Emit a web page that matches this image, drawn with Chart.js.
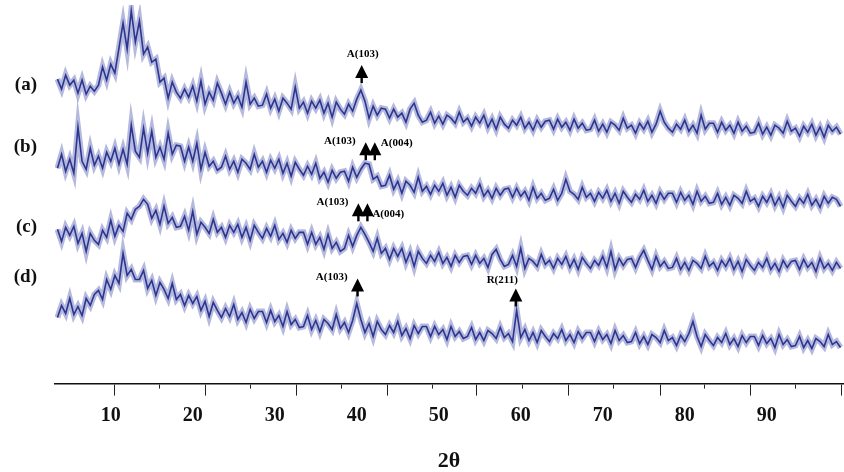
<!DOCTYPE html>
<html>
<head>
<meta charset="utf-8">
<script src="https://cdn.jsdelivr.net/npm/chart.js@4.4.1/dist/chart.umd.min.js"></script>
<style>
  body { margin: 0; background: #fff; }
</style>
</head>
<body>
<canvas id="xrdChart" width="844" height="472"></canvas>
<script>
// scan grid (2θ, degrees)
const scanStart = 3.5;
const scanStep = 0.5;

// sample names and the offset level they are written at
const sampleNames = ["(a)", "(b)", "(c)", "(d)"];
const sampleLevels = [298, 236, 156, 106];

// intensities (stacked, arbitrary units)
const intensityA = [
  304,294,308,298,303,290,303,289,297,292, 298,316,303,319,310,335,360,334,372,341,
  362,329,336,321,324,301,305,285,301,291, 285,294,286,297,282,302,279,291,283,300,
  290,279,291,280,287,276,301,279,285,277, 278,289,275,284,272,285,280,274,296,275,
  281,270,282,275,283,270,280,266,281,274, 269,279,272,284,293,282,265,277,268,275,
  274,265,274,266,270,261,274,280,268,261, 263,271,260,267,259,268,265,260,271,261,
  265,257,266,260,268,256,264,254,266,259, 255,263,258,266,255,261,253,263,256,262,
  263,254,264,256,261,253,264,255,260,253, 254,263,252,259,251,261,258,253,265,255,
  258,250,260,254,262,251,259,272,261,255, 251,259,254,263,252,258,250,268,254,260,
  260,251,261,253,258,250,261,252,257,250, 251,260,249,256,248,258,255,250,262,252,
  255,247,257,251,259,248,256,246,258,252, 256,249
];
const intensityB = [
  215,229,212,224,210,256,222,214,235,218, 227,215,231,222,235,219,234,219,258,232,
  226,255,230,252,226,236,224,250,229,238, 237,222,236,222,240,214,231,217,222,213,
  216,227,214,222,211,224,220,214,229,216, 222,211,223,215,224,210,220,207,221,214,
  208,217,209,220,205,211,201,213,205,211, 212,202,216,206,214,220,219,204,207,197,
  198,208,194,202,190,202,198,191,206,192, 197,189,198,192,200,188,196,186,198,192,
  188,195,190,199,187,193,185,195,188,194, 195,186,195,187,192,183,196,185,190,183,
  185,194,183,190,204,192,189,184,196,186, 190,182,191,185,193,182,190,180,192,186,
  181,189,184,193,182,188,180,191,184,190, 190,181,191,183,188,179,192,182,187,180,
  181,190,179,186,178,188,185,180,192,182, 185,177,187,181,189,178,186,176,188,182,
  177,185,180,189,178,184,176,187,180,186, 184,177
];
const intensityC = [
  154,142,156,148,157,140,150,132,150,143, 139,153,146,163,147,158,152,170,164,174,
  177,184,179,165,173,159,177,160,166,156, 157,167,153,172,149,161,156,150,164,151,
  156,146,158,151,159,146,156,143,158,151, 145,155,147,158,144,150,141,153,145,151,
  151,139,151,139,146,134,149,135,141,132, 135,148,137,148,156,149,141,132,145,130,
  135,124,135,127,135,121,131,117,132,125, 120,128,122,131,120,126,117,128,121,127,
  128,119,128,120,125,116,129,134,124,117, 119,128,117,135,115,125,122,117,129,119,
  123,115,125,119,127,116,124,114,126,120, 115,123,118,127,116,132,114,125,118,124,
  125,116,126,133,123,114,127,117,122,115, 116,125,114,121,113,123,120,115,127,117,
  121,113,123,117,125,114,122,112,124,118, 113,121,116,125,114,120,112,123,116,122,
  123,114,124,116,121,112,125,115,120,113, 121,115
];
const intensityD = [
  66,78,70,85,69,77,68,85,78,89, 93,84,104,94,108,100,130,108,114,104,
  104,113,95,103,88,101,94,85,100,84, 89,78,88,80,87,73,82,67,81,73,
  66,75,67,79,64,71,61,74,65,72, 72,61,73,62,68,57,72,59,64,56,
  57,68,54,63,52,64,60,54,69,55, 61,51,63,80,64,51,60,47,62,54,
  49,58,51,62,48,55,45,58,50,57, 57,47,57,49,54,44,57,47,52,45,
  47,56,44,51,43,53,50,45,56,46, 50,42,73,46,54,43,51,41,53,47,
  42,50,45,54,43,49,41,52,45,51, 51,42,52,44,49,40,53,43,48,41,
  42,51,40,47,39,49,46,41,53,43, 46,38,48,42,50,62,47,37,49,43,
  38,46,41,50,39,45,37,48,41,47, 47,38,48,40,45,36,49,39,44,37,
  38,47,36,43,35,45,42,37,49,39, 42,36
];

// x axis: numbered labels and the tick marks of the printed axis
const axisLabels = [10, 20, 30, 40, 50, 60, 70, 80, 90];
const majorMarks = [10.5, 21.5, 32.6, 43.7, 54.6, 65.8, 77, 88, 99.1];
const minorMarks = [16, 27, 38.1, 49.2, 60.2, 71.3, 82.4, 93.5];

// indexed peaks: name, 2θ, level of the arrow tip
const peakNames = ["A(103)", "A(103)", "A(004)", "A(103)", "A(004)", "A(103)", "R(211)"];
const peakAngles = [40.6, 41.1, 42.2, 40.2, 41.3, 40.1, 59.4];
const peakTips = [318, 241, 241, 180, 180, 105, 95];
const peakTextSide = ["above", "left", "right", "left", "rightLow", "left", "aboveLeft"];

const serif = '"Liberation Serif", "Times New Roman", serif';

function toPoints(values) {
    return values.map((v, i) => ({ x: scanStart + i * scanStep, y: v }));
}

// sample names on the left and the peak arrows with their indices
const annotations = {
    id: "annotations",
    afterDatasetsDraw(chart) {
        const ctx = chart.ctx;
        const xs = chart.scales.x, ys = chart.scales.y;
        ctx.save();
        ctx.fillStyle = "#111";
        ctx.font = "bold 19px " + serif;
        ctx.textAlign = "right";
        ctx.textBaseline = "middle";
        sampleNames.forEach((name, i) => {
            ctx.fillText(name, chart.chartArea.left - 18, ys.getPixelForValue(sampleLevels[i]));
        });

        ctx.fillStyle = "#000";
        ctx.font = "bold 11px " + serif;
        peakNames.forEach((name, i) => {
            const px = xs.getPixelForValue(peakAngles[i]);
            const py = ys.getPixelForValue(peakTips[i]);
            ctx.beginPath();
            ctx.moveTo(px, py);
            ctx.lineTo(px - 6.5, py + 13);
            ctx.lineTo(px + 6.5, py + 13);
            ctx.closePath();
            ctx.fill();
            ctx.fillRect(px - 1.2, py + 12, 2.4, 6);

            const side = peakTextSide[i];
            if (side === "above") {
                ctx.textAlign = "center";
                ctx.fillText(name, px + 1, py - 11);
            } else if (side === "left") {
                ctx.textAlign = "right";
                ctx.fillText(name, px - 10, py - 1);
            } else if (side === "right") {
                ctx.textAlign = "left";
                ctx.fillText(name, px + 6, py + 1);
            } else if (side === "rightLow") {
                ctx.textAlign = "left";
                ctx.fillText(name, px + 5, py + 11);
            } else {
                ctx.textAlign = "right";
                ctx.fillText(name, px + 2, py - 8);
            }
        });
        ctx.restore();
    }
};

const series = [intensityA, intensityB, intensityC, intensityD];

// each pattern: a sharp trace on top of a soft band of the same data
const datasets = [];
series.forEach((vals, k) => {
    datasets.push({
        label: sampleNames[k],
        data: toPoints(vals),
        borderColor: "#2c3690",
        borderWidth: 1.6,
        pointRadius: 0,
        tension: 0,
        order: 0
    });
    datasets.push({
        label: sampleNames[k] + " band",
        data: toPoints(vals),
        borderColor: "rgba(70, 80, 170, 0.4)",
        borderWidth: 6,
        pointRadius: 0,
        tension: 0,
        order: 1
    });
});

new Chart(document.getElementById("xrdChart"), {
    type: "line",
    data: { datasets: datasets },
    options: {
        responsive: false,
        animation: false,
        layout: { padding: { left: 55, right: 1, top: 5, bottom: -3 } },
        plugins: {
            legend: { display: false },
            tooltip: { enabled: false }
        },
        scales: {
            x: {
                type: "linear",
                min: 3.2,
                max: 99.3,
                afterBuildTicks: axis => {
                    axis.ticks = axisLabels.concat(majorMarks, minorMarks).map(v => ({ value: v }));
                },
                grid: {
                    drawOnChartArea: false,
                    drawTicks: true,
                    tickLength: 12,
                    tickWidth: 1,
                    tickColor: c => (c.tick && axisLabels.includes(c.tick.value)) ? "rgba(0,0,0,0)" : "#222",
                    tickBorderDash: c => (c.tick && minorMarks.includes(c.tick.value)) ? [4, 40] : []
                },
                border: { display: true, color: "#111", width: 1.6 },
                ticks: {
                    autoSkip: false,
                    maxRotation: 0,
                    padding: 8,
                    color: "#111",
                    font: { family: serif, size: 20, weight: "bold" },
                    callback: v => axisLabels.includes(v) ? String(v) : ""
                },
                title: {
                    display: true,
                    text: "2θ",
                    color: "#111",
                    font: { family: serif, size: 22, weight: "bold" },
                    padding: { top: 13, bottom: 0 }
                }
            },
            y: {
                display: false,
                min: 0,
                max: 378
            }
        }
    },
    plugins: [annotations]
});
</script>
</body>
</html>
